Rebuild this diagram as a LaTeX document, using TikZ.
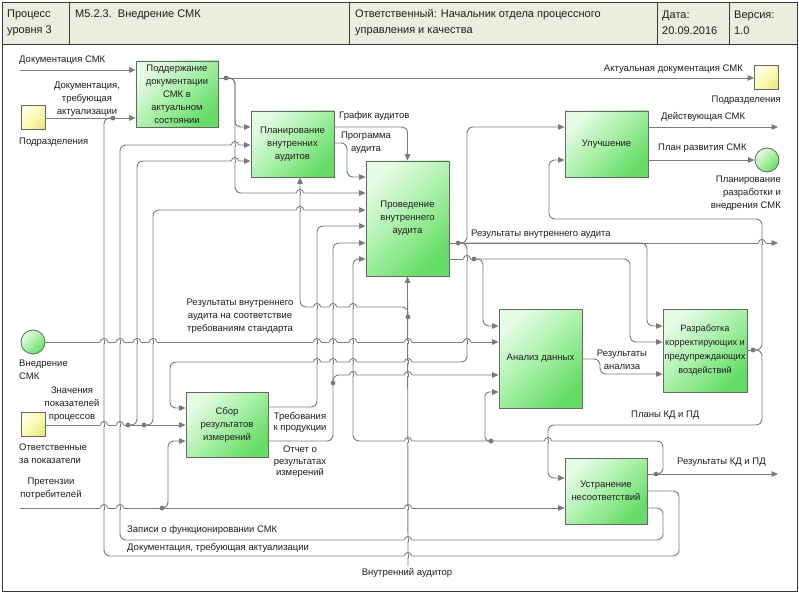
\documentclass[tikz,border=0pt]{standalone}
\usepackage{fontspec}
\setmainfont{Liberation Sans}
\usetikzlibrary{arrows.meta}
\definecolor{lc}{HTML}{7A7A7A}
\definecolor{bb}{HTML}{666666}
\definecolor{fr}{HTML}{3A3A3A}
\definecolor{hd}{HTML}{ECECDF}
\definecolor{gl}{HTML}{E4FBE4}
\definecolor{gm}{HTML}{A6F0A6}
\definecolor{gd}{HTML}{66DC66}
\definecolor{yl}{HTML}{FFFFE2}
\definecolor{ym}{HTML}{FBFAB4}
\definecolor{yd}{HTML}{ECE98A}
\definecolor{tx}{HTML}{1E1E1E}
\newcommand\hop[2]{%
  \fill[white] (#1-3.8,#2-1.3) rectangle (#1+3.8,#2+1.3);
  \draw[lc,line width=0.9pt] (#1,#2-1.6) -- (#1,#2+1.6);
  \draw[lc,line width=0.9pt] (#1-3.6,#2) arc[start angle=180,end angle=0,radius=3.6pt];}
\begin{document}
\begin{tikzpicture}[x=1pt,y=-1pt,
  every node/.style={text=tx,font=\fontsize{9.5}{13}\selectfont},
  box/.style={draw=bb,line width=0.8pt,top color=gl,bottom color=gd,middle color=gm,shading angle=45,
     align=center,inner sep=1pt},
  ybox/.style={draw=bb,line width=0.8pt,top color=yl,bottom color=yd,middle color=ym,shading angle=45,
     minimum size=24pt,inner sep=0pt},
  gcirc/.style={circle,draw=bb,line width=0.8pt,top color=gl,bottom color=gd,middle color=gm,shading angle=45,
     minimum size=24pt,inner sep=0pt},
  conn/.style={draw=lc,line width=0.9pt,rounded corners=6pt,-{Triangle[length=6.5pt,width=5.5pt]}},
  lnk/.style={draw=lc,line width=0.9pt,rounded corners=6pt},
  dotn/.style={circle,fill=lc,inner sep=0pt,minimum size=4.8pt},
  lbl/.style={inner sep=0pt,align=center},
  hdr/.style={inner sep=0pt,align=left,anchor=west,font=\fontsize{11}{16}\selectfont}]
\useasboundingbox (0,0) rectangle (799,593);
% frame and header
\fill[white] (0,0) rectangle (799,593);
\filldraw[fill=hd,draw=fr,line width=0.9pt] (2,2) rectangle (797,44);
\draw[fr,line width=0.9pt] (2,2) rectangle (797,591);
\foreach \xx in {69,349,657,729} \draw[fr,line width=0.9pt] (\xx,2) -- (\xx,44);
\node[hdr] (h1) at (7,23) {Процесс\\уровня 3};
\node[hdr] (h2) at (75,15) {M5.2.3.\ \ Внедрение СМК};
\node[hdr] (h3) at (355,23) {Ответственный: Начальник отдела процессного\\управления и качества};
\node[hdr] (h4) at (662,23) {Дата:\\20.09.2016};
\node[hdr] (h5) at (734,23) {Версия:\\1.0};
% boxes
\node[box,minimum width=82pt,minimum height=66pt] (B1) at (177,94) {Поддержание\\документации\\СМК в\\актуальном\\состоянии};
\node[box,minimum width=83pt,minimum height=66pt] (B2) at (292.5,144) {Планирование\\внутренних\\аудитов};
\node[box,minimum width=83pt,minimum height=115pt] (B3) at (407.5,218.5) {Проведение\\внутреннего\\аудита};
\node[box,minimum width=83pt,minimum height=66pt] (B4) at (606.5,144) {Улучшение};
\node[box,minimum width=83pt,minimum height=99pt] (B5) at (540.5,358.5) {Анализ данных};
\node[box,minimum width=84pt,minimum height=83pt,inner sep=0pt,font=\fontsize{9.2}{14}\selectfont] (B6) at (705,350.5) {Разработка\\корректирующих и\\предупреждающих\\воздействий};
\node[box,minimum width=82pt,minimum height=65pt] (B7) at (227,424.5) {Сбор\\результатов\\измерений};
\node[box,minimum width=82pt,minimum height=66pt] (B8) at (606,491) {Устранение\\несоответствий};
\node[ybox] (S1) at (33,117.5) {};
\node[ybox] (S2) at (766.5,77.5) {};
\node[ybox] (S3) at (33,424.5) {};
\node[gcirc] (C1) at (33,342) {};
\node[gcirc] (C2) at (767,160) {};
% free ends
\coordinate (inDoc) at (20,70);
\coordinate (inPr) at (20,508);
\coordinate (aud) at (408,566);
\coordinate (oRIA) at (778,243);
\coordinate (oDS) at (778,127);
\coordinate (oKD) at (778,474);
% dots
\node[dotn] (d1) at (226,78) {};
\node[dotn] (d2) at (113,118) {};
\node[dotn] (d3) at (128,425) {};
\node[dotn] (d4) at (144,425) {};
\node[dotn] (d5) at (162,508) {};
\node[dotn] (d6) at (408,317) {};
\node[dotn] (d7) at (333,383) {};
\node[dotn] (d8) at (458,243) {};
\node[dotn] (d9) at (474,259) {};
\node[dotn] (d10) at (753,350) {};
\node[dotn] (d11) at (656,474) {};
\node[dotn] (d12) at (491,441) {};
% connectors
\draw[conn] (inDoc) -- (B1.west |- 0,70);
\draw[conn] (S1.east |- 0,118) -- (B1.west |- 0,118);
\draw[lnk] (B1.east |- 0,78) -- (d1.center);
\draw[conn] (d1.center) -- (S2.west |- 0,78);
\draw[conn] (d1.center) -- (235,78) -- (235,127) -- (B2.west |- 0,127);
\draw[conn] (d1.center) -- (235,78) -- (235,193) -- (B3.west |- 0,193);
\draw[lnk] (B8.east |- 0,491) -- (679,491) -- (679,556) -- (104,556) -- (104,118) -- (d2.center);
\draw[conn] (B8.east |- 0,508) -- (663,508) -- (663,540) -- (120,540) -- (120,145) -- (B2.west |- 0,145);
\draw[conn] (S3.east |- 0,425) -- (B7.west |- 0,425);
\draw[conn] (d3.center) -- (137,425) -- (137,161) -- (B2.west |- 0,161);
\draw[conn] (d4.center) -- (153,425) -- (153,210) -- (B3.west |- 0,210);
\draw[conn] (C1.east) -- (B5.west |- 0,342);
\draw[conn] (inPr) -- (B8.west |- 0,508);
\draw[conn] (d5.center) -- (168,508) -- (168,441) -- (B7.west |- 0,441);
\draw[conn] (B2.east |- 0,127) -- (B3.north |- 0,127) -- (B3.north);
\draw[conn] (B2.east |- 0,143) -- (347,143) -- (347,177) -- (B3.west |- 0,177);
\draw[conn] (aud) -- (B3.south);
\draw[conn] (d6.center) -- (408,307) -- (300,307) -- (B2.south -| 300,0);
\draw[conn] (B7.east |- 0,407) -- (317,407) -- (317,226) -- (B3.west |- 0,226);
\draw[conn] (B7.east |- 0,441) -- (333,441) -- (333,243) -- (B3.west |- 0,243);
\draw[conn] (d7.center) -- (333,375) -- (B5.west |- 0,375);
\draw[lnk] (B3.east |- 0,243) -- (d8.center);
\draw[conn] (d8.center) -- (oRIA);
\draw[conn] (d8.center) -- (467,243) -- (467,127) -- (B4.west |- 0,127);
\draw[conn] (d8.center) -- (467,243) -- (467,362) -- (170,362) -- (170,408) -- (B7.west |- 0,408);
\draw[conn] (d8.center) -- (647,243) -- (647,326) -- (B6.west |- 0,326);
\draw[lnk] (B3.east |- 0,259) -- (d9.center);
\draw[conn] (d9.center) -- (630,259) -- (630,342) -- (B6.west |- 0,342);
\draw[conn] (d9.center) -- (483,259) -- (483,326) -- (B5.west |- 0,326);
\draw[conn] (B4.east |- 0,127) -- (oDS);
\draw[conn] (B4.east |- 0,160) -- (C2.west);
\draw[conn] (B5.east |- 0,359) -- (600,359) -- (600,374) -- (B6.west |- 0,374);
\draw[lnk] (B6.east |- 0,350) -- (d10.center);
\draw[conn] (d10.center) -- (762,350) -- (762,219) -- (549,219) -- (549,160) -- (B4.west |- 0,160);
\draw[conn] (d10.center) -- (762,350) -- (762,425) -- (548,425) -- (548,478) -- (B8.west |- 0,478);
\draw[lnk] (B8.east |- 0,474) -- (d11.center);
\draw[conn] (d11.center) -- (oKD);
\draw[conn] (d11.center) -- (663,474) -- (663,441) -- (353,441) -- (353,259) -- (B3.west |- 0,259);
\draw[conn,rounded corners=4pt] (d12.center) -- (485,441) -- (485,392) -- (B5.west |- 0,392);
% hops
\foreach \hx/\hy in {235/145,235/161,300/193,300/210,762/243,467/259,317/307,333/307,353/307,
  104/342,120/342,137/342,153/342,317/342,333/342,353/342,408/342,467/342,
  317/362,333/362,353/362,408/362,353/375,408/375,104/425,120/425,
  408/441,548/441,104/508,120/508,408/508,408/540,408/556} {\hop{\hx}{\hy}}
% labels
\node[lbl,anchor=west] (l1) at (19,60) {Документация СМК};
\node[lbl] (l2) at (87,99) {Документация,\\требующая\\актуализации};
\node[lbl,anchor=west] (l3) at (19,142) {Подразделения};
\node[lbl,anchor=east] (l4) at (781,100) {Подразделения};
\node[lbl,anchor=west] (l5) at (339,116) {График аудитов};
\node[lbl] (l6) at (366,143) {Программа\\аудита};
\node[lbl,anchor=east] (l7) at (743,69) {Актуальная документация СМК};
\node[lbl,anchor=west] (l8) at (661,117) {Действующая СМК};
\node[lbl,anchor=west] (l9) at (658,148) {План развития СМК};
\node[lbl,anchor=east,align=right] (l10) at (781,193) {Планирование\\разработки и\\внедрения СМК};
\node[lbl,anchor=west] (l11) at (471,234) {Результаты внутреннего аудита};
\node[lbl] (l12) at (240,316) {Результаты внутреннего\\аудита на соответствие\\требованиям стандарта};
\node[lbl,anchor=west,align=left] (l13) at (19,370) {Внедрение\\СМК};
\node[lbl] (l14) at (72,404.5) {Значения\\показателей\\процессов};
\node[lbl,anchor=west,align=left] (l15) at (19,453.5) {Ответственные\\за показатели};
\node[lbl] (l16) at (51,488.5) {Претензии\\потребителей};
\node[lbl,anchor=west] (l17) at (127,530) {Записи о функционировании СМК};
\node[lbl,anchor=west] (l18) at (127,548) {Документация, требующая актуализации};
\node[lbl] (l19) at (407,573) {Внутренний аудитор};
\node[lbl,font=\fontsize{9.5}{11.5}\selectfont] (l20) at (300,422.5) {Требования\\к продукции};
\node[lbl,font=\fontsize{9.5}{11.5}\selectfont] (l21) at (300,462) {Отчет о\\результатах\\измерений};
\node[lbl] (l22) at (622,359.5) {Результаты\\анализа};
\node[lbl,anchor=west] (l23) at (631,415) {Планы КД и ПД};
\node[lbl,anchor=west] (l24) at (677,462) {Результаты КД и ПД};
\end{tikzpicture}
\end{document}
